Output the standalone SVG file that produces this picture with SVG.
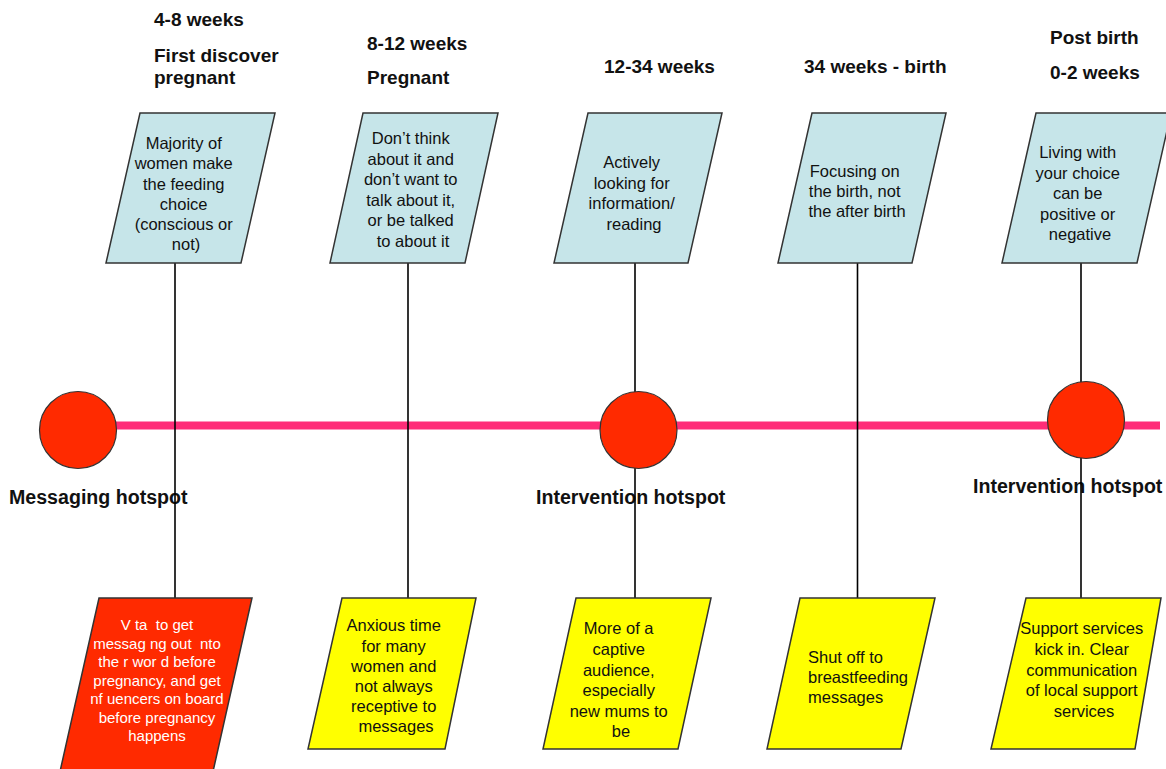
<svg xmlns="http://www.w3.org/2000/svg" width="1166" height="769" viewBox="0 0 1166 769">
  <style>
    .stage { font-family: "Liberation Sans", Arial, sans-serif; font-weight: bold; font-size: 19px; fill: #111; }
    .hot { font-family: "Liberation Sans", Arial, sans-serif; font-weight: bold; font-size: 19.6px; fill: #111; }
    .note { font-family: "Liberation Sans", Arial, sans-serif; font-size: 16.5px; fill: #111; text-anchor: middle; }
    .note-l { text-anchor: start; }
    .note-w { fill: #fff; font-size: 15px; }
    .pre { white-space: pre; }
    .blue { fill: #c6e5e9; stroke: #333; stroke-width: 1.5; }
    .yellow { fill: #ffff00; stroke: #333; stroke-width: 1.5; }
    .red { fill: #ff2a00; stroke: #333; stroke-width: 1.5; }
    .link { stroke: #000; stroke-width: 1.6; fill: none; }
    .spot { fill: #ff2a00; stroke: #333; stroke-width: 1.2; }
  </style>

  <!-- stage headings -->
  <g id="stage-labels">
    <text class="stage" x="154" y="26">4-8 weeks</text>
    <text class="stage" x="154" y="62">First discover</text>
    <text class="stage" x="154" y="84">pregnant</text>
    <text class="stage" x="367" y="50">8-12 weeks</text>
    <text class="stage" x="367" y="84">Pregnant</text>
    <text class="stage" x="604" y="73">12-34 weeks</text>
    <text class="stage" x="804" y="73">34 weeks - birth</text>
    <text class="stage" x="1050" y="44">Post birth</text>
    <text class="stage" x="1050" y="79">0-2 weeks</text>
  </g>

  <!-- timeline -->
  <g id="timeline">
    <line x1="110" y1="425.5" x2="1160" y2="425.5" stroke="#ff2d78" stroke-width="8"/>
  </g>

  <!-- hotspot captions -->
  <g id="hotspot-labels">
    <text class="hot" x="9" y="504">Messaging hotspot</text>
    <text class="hot" x="536" y="504">Intervention hotspot</text>
    <text class="hot" x="973" y="493">Intervention hotspot</text>
  </g>

  <!-- vertical connectors from top notes to bottom notes -->
  <g id="connectors">
    <line class="link" x1="175" y1="263" x2="175" y2="598"/>
    <line class="link" x1="408" y1="263" x2="408" y2="598"/>
    <line class="link" x1="635" y1="263" x2="635" y2="598"/>
    <line class="link" x1="857.5" y1="263" x2="857.5" y2="598"/>
    <line class="link" x1="1081" y1="263" x2="1081" y2="598"/>
  </g>

  <!-- hotspots on the timeline -->
  <g id="hotspot-1"><circle class="spot" cx="78" cy="430" r="38.5"/></g>
  <g id="hotspot-2"><circle class="spot" cx="638.5" cy="430" r="38.5"/></g>
  <g id="hotspot-3"><circle class="spot" cx="1086" cy="420" r="38.5"/></g>

  <!-- upper notes -->
  <g id="top-1">
    <polygon class="blue" points="140,113 275,113 241,263 106,263"/>
    <text class="note">
      <tspan x="186" y="149">Majority of</tspan>
      <tspan x="186" y="169">women make</tspan>
      <tspan x="186" y="190">the feeding</tspan>
      <tspan x="186" y="210">choice</tspan>
      <tspan x="186" y="230">(conscious or</tspan>
      <tspan x="186" y="250">not)</tspan>
    </text>
  </g>
  <g id="top-2">
    <polygon class="blue" points="363,113 498,113 465,263 330,263"/>
    <text class="note">
      <tspan x="413" y="144">Don’t think</tspan>
      <tspan x="413" y="165">about it and</tspan>
      <tspan x="413" y="185">don’t want to</tspan>
      <tspan x="413" y="206">talk about it,</tspan>
      <tspan x="413" y="226">or be talked</tspan>
      <tspan x="413" y="247">to about it</tspan>
    </text>
  </g>
  <g id="top-3">
    <polygon class="blue" points="588,113 722,113 688,263 554,263"/>
    <text class="note">
      <tspan x="634" y="168">Actively</tspan>
      <tspan x="634" y="189">looking for</tspan>
      <tspan x="634" y="209">information/</tspan>
      <tspan x="634" y="230">reading</tspan>
    </text>
  </g>
  <g id="top-4">
    <polygon class="blue" points="812,113 946,113 912,263 778,263"/>
    <text class="note">
      <tspan x="857" y="177">Focusing on</tspan>
      <tspan x="857" y="197">the birth, not</tspan>
      <tspan x="857" y="217">the after birth</tspan>
    </text>
  </g>
  <g id="top-5">
    <polygon class="blue" points="1036,113 1171,113 1137,263 1002,263"/>
    <text class="note">
      <tspan x="1080" y="158">Living with</tspan>
      <tspan x="1080" y="179">your choice</tspan>
      <tspan x="1080" y="199">can be</tspan>
      <tspan x="1080" y="220">positive or</tspan>
      <tspan x="1080" y="240">negative</tspan>
    </text>
  </g>

  <!-- lower notes -->
  <g id="bottom-1">
    <polygon class="red" points="99,598 252,598 212,776 59,776"/>
    <text class="note note-w"><tspan class="pre" x="157" y="630">V ta  to get</tspan><tspan class="pre" x="157" y="649">messag ng out  nto</tspan><tspan class="pre" x="157" y="667">the r wor d before</tspan><tspan class="pre" x="157" y="686">pregnancy, and get</tspan><tspan class="pre" x="157" y="704">nf uencers on board</tspan><tspan class="pre" x="157" y="723">before pregnancy</tspan><tspan class="pre" x="157" y="741">happens</tspan></text>
  </g>
  <g id="bottom-2">
    <polygon class="yellow" points="342,598 476,598 445,749 308,749"/>
    <text class="note">
      <tspan x="396" y="631">Anxious time</tspan>
      <tspan x="396" y="652">for many</tspan>
      <tspan x="396" y="672">women and</tspan>
      <tspan x="396" y="692">not always</tspan>
      <tspan x="396" y="712">receptive to</tspan>
      <tspan x="396" y="732">messages</tspan>
    </text>
  </g>
  <g id="bottom-3">
    <polygon class="yellow" points="576,598 711,598 678,749 543,749"/>
    <text class="note">
      <tspan x="621" y="634">More of a</tspan>
      <tspan x="621" y="655">captive</tspan>
      <tspan x="621" y="676">audience,</tspan>
      <tspan x="621" y="696">especially</tspan>
      <tspan x="621" y="717">new mums to</tspan>
      <tspan x="621" y="737">be</tspan>
    </text>
  </g>
  <g id="bottom-4">
    <polygon class="yellow" points="800,598 935,598 901,749 767,749"/>
    <text class="note note-l">
      <tspan x="808" y="663">Shut off to</tspan>
      <tspan x="808" y="683">breastfeeding</tspan>
      <tspan x="808" y="703">messages</tspan>
    </text>
  </g>
  <g id="bottom-5">
    <polygon class="yellow" points="1026,598 1161,598 1135,749 991,749"/>
    <text class="note">
      <tspan x="1084" y="634">Support services</tspan>
      <tspan x="1084" y="655">kick in. Clear</tspan>
      <tspan x="1084" y="676">communication</tspan>
      <tspan x="1084" y="696">of local support</tspan>
      <tspan x="1084" y="717">services</tspan>
    </text>
  </g>
</svg>
